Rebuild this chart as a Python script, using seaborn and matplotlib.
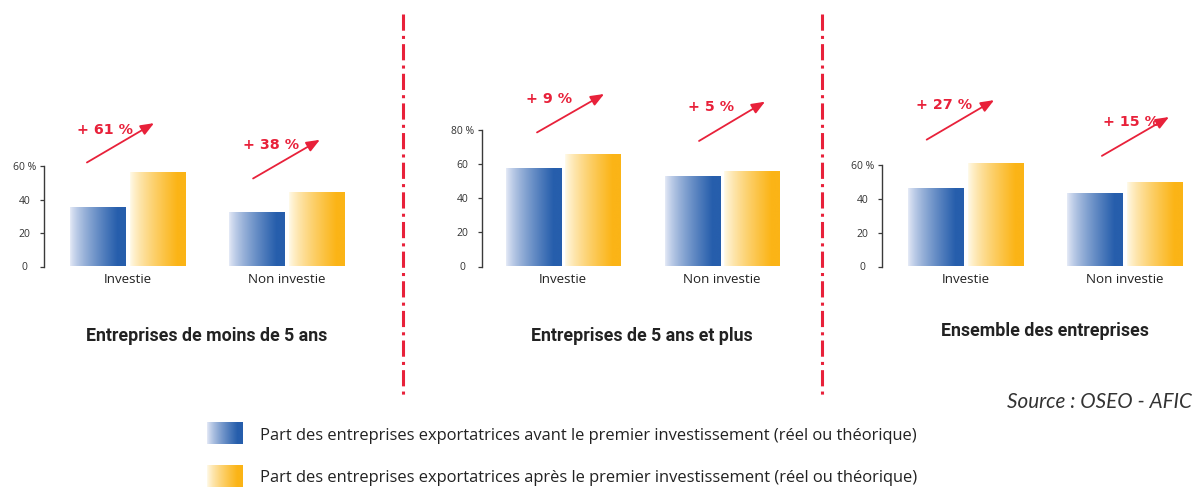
import numpy as np
import pandas as pd
import matplotlib
matplotlib.use("Agg")
import matplotlib.pyplot as plt
import seaborn as sns
from matplotlib.lines import Line2D

# --------------------------------------------------
# Data
# --------------------------------------------------

categories = ["Investie", "Non investie"]
series = ["avant", "après"]

panel_titles = [
    "Entreprises de moins de 5 ans",
    "Entreprises de 5 ans et plus",
    "Ensemble des entreprises",
]

before_values = [[35, 32], [57, 52.5], [46, 43]]
after_values = [[56, 44], [65, 55.5], [60.5, 49.5]]
gain_labels = [["+ 61 %", "+ 38 %"], ["+ 9 %", "+ 5 %"], ["+ 27 %", "+ 15 %"]]

y_max = [60, 80, 60]
y_ticks = [[0, 20, 40, 60], [0, 20, 40, 60, 80], [0, 20, 40, 60]]

legend_labels = [
    "Part des entreprises exportatrices avant le premier investissement (réel ou théorique)",
    "Part des entreprises exportatrices après le premier investissement (réel ou théorique)",
]
source_text = "Source : OSEO - AFIC"

# --------------------------------------------------
# Layout / style
# --------------------------------------------------

W, H = 1194, 488
RED = "#e8213a"
BLUE_L, BLUE_R = np.array([232, 236, 248]) / 255, np.array([38, 94, 172]) / 255
ORA_L, ORA_R = np.array([255, 251, 238]) / 255, np.array([251, 180, 22]) / 255

axis_x = [44, 482, 882]
left_off = [0.525, 0.51, 0.525]
px_per_unit = [1.667, 1.708, 1.689]
ax_bottom, ax_height = 266.5, 200
ax_width = 306

# arrow start / end (x offset from group, y offset above "after" bar)
arrow_start = [[(-0.255, 6.4), (-0.21, 8.8)], [(-0.164, 13.5), (-0.145, 18)], [(-0.244, 14.6), (-0.142, 16)]]
arrow_end = [[(0.167, 30), (0.21, 32)], [(0.258, 36), (0.27, 41)], [(0.18, 38), (0.28, 39)]]
label_pos = [[(-0.318, 25.6), (-0.274, 29)], [(-0.233, 33), (-0.214, 38)], [(-0.313, 35), (-0.136, 36)]]

title_pos = [(207, 336), (642, 336), (1045, 331)]

BODY_FONT = ["Open Sans", "DejaVu Sans"]
TITLE_FONT = ["Roboto", "DejaVu Sans"]


def px_box(left, top, width, height):
    return [left / W, 1 - (top + height) / H, width / W, height / H]


def gradient(c_left, c_right, n=256):
    t = np.linspace(0, 1, n)
    t = np.clip(t / 0.85, 0, 1) ** 0.75
    return (c_left[None, :] + (c_right - c_left)[None, :] * t[:, None])[None, :, :]


BLUE_GRAD = gradient(BLUE_L, BLUE_R)
ORA_GRAD = gradient(ORA_L, ORA_R)

sns.set_theme(style="white")
plt.rcParams["font.family"] = BODY_FONT

fig = plt.figure(figsize=(W / 100, H / 100), dpi=100)

# --------------------------------------------------
# Panels
# --------------------------------------------------

for i in range(3):
    ax = fig.add_axes(px_box(axis_x[i], ax_bottom - ax_height, ax_width, ax_height))

    df = pd.DataFrame({
        "categorie": categories * 2,
        "serie": [series[0]] * 2 + [series[1]] * 2,
        "valeur": before_values[i] + after_values[i],
    })

    sns.barplot(
        data=df,
        x="categorie",
        y="valeur",
        hue="serie",
        hue_order=series,
        palette=[BLUE_R, ORA_R],
        width=0.75,
        gap=0.07,
        legend=False,
        ax=ax,
    )

    xlim = (-left_off[i], -left_off[i] + ax_width / 159)
    ylim = (0, ax_height / px_per_unit[i])

    # gradient fill for every bar (left bar of a group = "avant")
    for patch in list(ax.patches):
        x0, w, h = patch.get_x(), patch.get_width(), patch.get_height()
        centre = x0 + w / 2
        is_before = centre < round(centre)
        ax.imshow(
            BLUE_GRAD if is_before else ORA_GRAD,
            extent=(x0, x0 + w, 0, h),
            aspect="auto",
            interpolation="bilinear",
            zorder=2,
        )
        patch.set_visible(False)

    ax.set_xlim(*xlim)
    ax.set_ylim(*ylim)

    # arrows + gain labels
    for g in range(2):
        top = after_values[i][g]
        sx, sy = arrow_start[i][g]
        ex, ey = arrow_end[i][g]
        ax.annotate(
            "",
            xy=(g + ex, top + ey),
            xytext=(g + sx, top + sy),
            arrowprops=dict(arrowstyle="-|>,head_length=0.8,head_width=0.32",
                            color=RED, lw=1.3, shrinkA=0, shrinkB=0,
                            mutation_scale=10),
            zorder=4,
        )
        lx, ly = label_pos[i][g]
        ax.text(g + lx, top + ly, gain_labels[i][g], color=RED,
                fontsize=10.3, fontweight="bold", ha="left", va="center",
                family=["DejaVu Sans"])

    # axes styling
    for side in ["top", "right", "bottom"]:
        ax.spines[side].set_visible(False)
    ax.spines["left"].set_bounds(0, y_max[i])
    ax.spines["left"].set_color("#3a3a3a")
    ax.spines["left"].set_linewidth(1.0)

    ax.set_yticks(y_ticks[i])
    ax.set_yticklabels([str(v) for v in y_ticks[i][:-1]] + [f"{y_ticks[i][-1]} %"])
    ax.tick_params(axis="y", length=3, width=0.9, color="#3a3a3a",
                   pad=11, labelsize=7.5, labelcolor="#333333", left=True)
    for lab in ax.get_yticklabels():
        lab.set_horizontalalignment("center")

    ax.tick_params(axis="x", length=0, pad=5, labelsize=9.6, labelcolor="#222222")
    ax.set_xlabel("")
    ax.set_ylabel("")
    ax.grid(False)
    ax.set_facecolor("none")

    tx, ty = title_pos[i]
    fig.text(tx / W, 1 - ty / H, panel_titles[i], ha="center", va="center",
             fontsize=12.8, fontweight="bold", color="#222222", family=TITLE_FONT)

# --------------------------------------------------
# Dividers
# --------------------------------------------------

for xpx in [403, 822]:
    fig.add_artist(Line2D([xpx / W, xpx / W], [1 - 14 / H, 1 - 398 / H],
                          transform=fig.transFigure, color=RED, lw=2.2,
                          linestyle=(0, (5.3, 1.7, 1.0, 1.7))))

# --------------------------------------------------
# Source + legend
# --------------------------------------------------

fig.text(1192 / W, 1 - 402 / H, source_text, ha="right", va="center",
         fontsize=14.9, style="italic", color="#333333", family=["Lato", "DejaVu Sans"])

legend_boxes = [(207, 422, BLUE_GRAD), (207, 465, ORA_GRAD)]
legend_text_y = [436, 478]
for (bx, by, grad), ty, label in zip(legend_boxes, legend_text_y, legend_labels):
    lax = fig.add_axes(px_box(bx, by, 36, 22))
    lax.imshow(grad, aspect="auto", interpolation="bilinear")
    lax.axis("off")
    fig.text(260 / W, 1 - ty / H, label, ha="left", va="center",
             fontsize=11.85, color="#222222", family=BODY_FONT)

fig.savefig("out.png", dpi=100)
plt.close(fig)
